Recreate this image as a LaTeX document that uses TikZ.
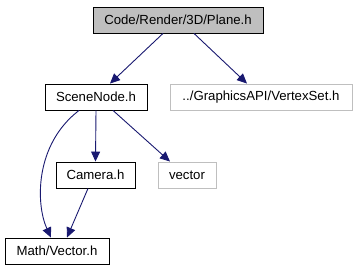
\documentclass[tikz,border=0pt]{standalone}
\usepackage{fontspec}
\setmainfont{Liberation Sans}
\usetikzlibrary{arrows.meta,calc}
\definecolor{edgeblue}{HTML}{191970}
\definecolor{boxgray}{HTML}{BFBFBF}
\begin{document}
\begin{tikzpicture}[x=1pt,y=-1pt,
  file/.style={draw=black,line width=0.9pt,minimum height=26pt,inner sep=0pt,
    font=\fontsize{13.2}{15}\selectfont},
  extfile/.style={file,draw=boxgray},
  dep/.style={draw=edgeblue,line width=0.9pt,-{Triangle[length=10pt,width=9pt]}}]
\useasboundingbox (0,0) rectangle (357,272);

% files
\node[file,fill=boxgray,minimum width=170pt] (plane) at (178,20) {Code/Render/3D/Plane.h};
\node[file,minimum width=102pt] (scene) at (96,97) {SceneNode.h};
\node[extfile,minimum width=182pt] (vset) at (261,97) {../GraphicsAPI/VertexSet.h};
\node[file,minimum width=79pt] (camera) at (95.5,175) {Camera.h};
\node[extfile,minimum width=58pt] (vec) at (187,175) {vector};
\node[file,minimum width=104pt] (mathvec) at (57,251) {Math/Vector.h};

% include edges
\draw[dep] ($(plane.south)+(-15,0)$) -- ($(scene.north)+(14,0)$);
\draw[dep] ($(plane.south)+(16,0)$) -- ($(vset.north)+(-14,0)$);
\draw[dep] (scene.south) -- (camera.north);
\draw[dep] ($(scene.south)+(17,0)$) -- ($(vec.north)+(-17,0)$);
\draw[dep] ($(scene.south)+(-17,0)$) .. controls (34,145) and (36,205) .. ($(mathvec.north)+(-6,0)$);
\draw[dep] ($(camera.south)+(-7.5,0)$) -- ($(mathvec.north)+(10,0)$);
\end{tikzpicture}
\end{document}
